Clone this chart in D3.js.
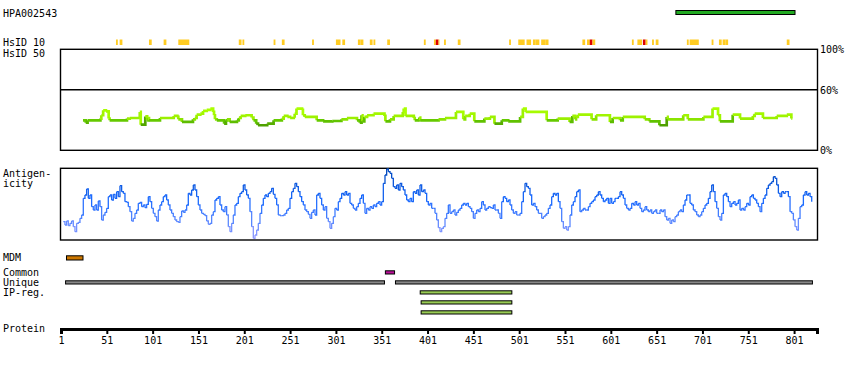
<!DOCTYPE html>
<html lang="en">
<head>
    <meta charset="UTF-8">
    <title>HPA002543</title>
    <script src="https://cdn.jsdelivr.net/npm/d3@7"></script>
    <style>
        body { margin: 0; background: #fff; }
        text { font: 10px "DejaVu Sans Mono", monospace; fill: #000; }
        .frame { fill: none; stroke: #000; stroke-width: 1.4; }
        .bar { stroke: #000; stroke-width: 1; }
        .axis .domain { stroke: #000; stroke-width: 3; }
        .axis .tick line { stroke: #000; stroke-width: 2; }
    </style>
</head>
<body>
<svg id="chart" width="850" height="370"></svg>
<script>
    // protein length and tick labels
    const proteinLength = 826
    const tickResidues = [1, 51, 101, 151, 201, 251, 301, 351, 401, 451, 501, 551, 601, 651, 701, 751, 801]

    // antigen (PrEST) region
    const antigen = [672, 802]

    // HsID 10 hits: [start, end, level]  (level 1 = yellow, 2 = red)
    const hsid10 = [
        [61, 62, 1], [65, 67, 1], [97, 99, 1], [113, 115, 1], [129, 140, 1], [195, 197, 1], [199, 200, 1],
        [233, 234, 1], [242, 244, 1], [275, 276, 1], [301, 305, 1], [308, 310, 1], [325, 327, 1], [328, 330, 1],
        [338, 340, 1], [342, 343, 1], [357, 359, 1], [397, 398, 1], [408, 409, 1], [410, 412, 2], [413, 413, 1],
        [419, 420, 1], [434, 436, 1], [490, 491, 1], [500, 506, 1], [509, 513, 1], [516, 518, 1], [519, 522, 1],
        [525, 529, 1], [530, 532, 1], [570, 572, 1], [575, 577, 1], [578, 580, 2], [581, 583, 1], [624, 625, 1],
        [630, 634, 1], [636, 638, 2], [639, 640, 1], [646, 647, 1], [650, 652, 1], [684, 685, 1], [687, 696, 1],
        [711, 712, 1], [719, 721, 1], [723, 725, 1], [726, 728, 1], [793, 795, 1]
    ]

    // sequence identity (%) – residue where each level starts
    const idPos = [25, 28, 30, 44, 45, 47, 50, 53, 54, 73, 76, 87, 88, 93, 95, 96, 97, 109, 124, 128, 129, 133,
        145, 147, 149, 153, 156, 160, 164, 167, 168, 169, 171, 179, 181, 182, 185, 193, 195, 197, 202, 209, 211,
        214, 216, 226, 233, 242, 244, 248, 251, 255, 256, 258, 264, 265, 267, 280, 287, 297, 307, 313, 324, 327,
        329, 330, 332, 335, 342, 354, 355, 360, 364, 374, 375, 377, 386, 387, 391, 392, 393, 413, 420, 432, 440,
        442, 447, 452, 463, 469, 474, 482, 489, 502, 505, 508, 531, 543, 556, 559, 562, 563, 565, 580, 585, 600,
        603, 611, 614, 638, 643, 654, 662, 663, 680, 685, 702, 712, 718, 720, 734, 742, 756, 758, 767, 782, 793,
        798, 799]
    const idVal = [29.7, 27.4, 29.7, 31.4, 34.7, 39.6, 38.5, 31.4, 29.7, 31.4, 32.0, 38.0, 25.4, 33.5, 29.7, 32.0,
        29.7, 32.0, 34.0, 33.0, 30.7, 28.1, 30.7, 32.0, 35.3, 36.3, 39.0, 40.0, 41.3, 38.0, 34.7, 30.7, 29.7, 26.4,
        29.7, 30.7, 28.1, 29.7, 32.0, 34.0, 34.7, 32.5, 29.7, 26.4, 24.8, 26.4, 29.7, 31.4, 34.0, 33.0, 32.0, 33.5,
        36.3, 41.3, 40.0, 34.7, 33.0, 29.7, 28.7, 29.0, 30.7, 32.0, 29.7, 27.4, 34.7, 28.7, 33.0, 34.7, 36.3, 34.0,
        28.7, 30.7, 34.0, 38.0, 41.3, 34.0, 32.0, 29.7, 30.0, 32.5, 29.7, 30.7, 32.0, 38.0, 30.7, 34.0, 36.3, 28.7,
        31.4, 33.0, 26.4, 29.7, 28.7, 33.0, 41.3, 38.0, 29.7, 31.4, 28.1, 34.0, 30.7, 33.0, 35.3, 30.7, 34.7, 28.1,
        32.0, 29.7, 33.0, 30.7, 28.7, 24.8, 33.0, 30.7, 34.7, 30.7, 33.0, 41.3, 34.7, 28.7, 35.3, 31.4, 34.0, 36.3,
        32.0, 34.0, 35.3, 31.4, 31.4]

    // antigenicity score (relative units), sampled from residue 3.5 every 1.819 residues
    const antStart = 3.5
    const antStep = 1.819
    const antVals = [55, 45, 57, 43, 50, 57, 40, 25, 50, 53, 65, 75, 125, 135, 153, 125, 135, 100, 90, 105, 90, 117,
        100, 60, 75, 83, 95, 130, 135, 120, 137, 125, 145, 130, 163, 145, 140, 115, 113, 100, 85, 57, 65, 80, 90, 110,
        113, 100, 105, 97, 107, 130, 115, 95, 80, 70, 57, 90, 105, 115, 130, 135, 120, 105, 90, 80, 70, 60, 55, 53,
        70, 87, 83, 90, 105, 140, 135, 150, 165, 150, 130, 105, 90, 80, 77, 73, 57, 47, 50, 75, 85, 120, 125, 130,
        105, 90, 85, 100, 75, 40, 25, 50, 75, 105, 110, 130, 140, 145, 165, 150, 135, 125, 85, 40, 5, 15, 30, 50,
        80, 105, 125, 135, 130, 140, 145, 155, 137, 125, 105, 75, 73, 73, 75, 80, 90, 95, 125, 145, 155, 170, 160,
        145, 130, 115, 105, 90, 85, 77, 65, 83, 90, 75, 135, 140, 125, 105, 90, 100, 65, 55, 35, 50, 70, 95, 90,
        115, 125, 140, 135, 145, 135, 140, 110, 105, 95, 90, 100, 110, 125, 135, 110, 80, 95, 90, 100, 95, 105, 100,
        110, 115, 105, 115, 170, 195, 213, 205, 200, 185, 160, 155, 165, 150, 170, 160, 150, 135, 120, 115, 125, 115,
        145, 140, 150, 135, 165, 145, 150, 140, 115, 105, 110, 95, 95, 80, 60,
        37, 25, 35, 40, 65, 80, 105, 80, 85, 90, 75, 83, 90, 95, 105, 110, 105, 110, 100, 95, 85, 65, 80, 90, 85, 95,
        115, 105, 90, 95, 100, 97, 95, 105, 90, 90, 80, 65, 115, 130, 125, 115, 120, 105, 90, 80, 85, 75, 75, 80, 115,
        145, 170, 160, 155, 135, 105, 110, 100, 90, 80, 80, 65, 70, 75, 80, 95, 105, 130, 140, 135, 140, 115, 95, 55,
        35, 40, 30, 40, 75, 105, 115, 130, 145, 150, 85, 90, 95, 90, 90, 100, 110, 115, 120, 130, 135, 145, 135, 125,
        115, 120, 125, 110, 125, 110, 115, 125, 125, 130, 145, 135, 125, 105, 95, 90, 95, 110, 105, 115, 105, 110, 95,
        85, 90, 100, 90, 85, 90, 80, 85, 90, 80, 80, 90, 85, 90, 70, 60, 65, 50, 60, 55, 70, 75, 85, 90, 85, 105, 120,
        135, 135, 110, 105, 90, 85, 75, 70, 75, 85, 95, 105, 110, 125, 145, 165, 145, 115, 95, 70, 60, 80, 135, 140,
        130, 115, 100, 110, 115, 105, 110, 120, 90, 95, 90, 100, 110, 105, 130, 135, 125, 120, 110, 100, 85, 110, 125,
        135, 155, 165, 170, 175, 190, 185, 165, 140, 130, 145, 140, 145, 145, 130, 85, 80, 60, 40, 30, 65, 100, 105,
        135, 145, 135, 140, 130, 115]

    // feature tracks: [start, end]
    const mdm = [[7, 25]]
    const common = [[355, 365]]
    const unique = [[6, 354], [366, 821]]
    const ipReg = [[393, 493], [394, 493], [394, 493]]

    const svg = d3.select("#chart")
    const x = d3.scaleLinear().domain([1, proteinLength]).range([61, 817])

    // labels
    const labels = [["HPA002543", 17], ["HsID 10", 46], ["HsID 50", 56.5], ["Antigen-", 177], ["icity", 187],
        ["MDM", 261], ["Common", 276], ["Unique", 286], ["IP-reg.", 296], ["Protein", 332]]
    svg.selectAll(".lbl").data(labels).enter().append("text")
        .attr("x", 3).attr("y", d => d[1]).text(d => d[0])

    // antigen bar
    svg.append("rect").attr("class", "bar")
        .attr("x", x(antigen[0])).attr("y", 10.5).attr("width", x(antigen[1]) - x(antigen[0])).attr("height", 4)
        .attr("fill", "#22aa22")

    // HsID 10 marks
    svg.selectAll(".hs").data(hsid10).enter().append("rect")
        .attr("x", d => x(d[0])).attr("y", 39.5)
        .attr("width", d => x(d[1] + 1) - x(d[0])).attr("height", 5.5)
        .attr("fill", d => d[2] === 2 ? "#dd0000" : "#ffcc22")

    // identity panel
    const yId = d3.scaleLinear().domain([0, 100]).range([150.3, 49.3])
    svg.append("rect").attr("class", "frame")
        .attr("x", 60.5).attr("y", yId(100)).attr("width", 757).attr("height", yId(0) - yId(100))
    svg.append("line").attr("class", "frame")
        .attr("x1", 60.5).attr("x2", 817.5).attr("y1", yId(60)).attr("y2", yId(60))
    const pctTicks = [100, 60, 0]
    svg.selectAll(".pct").data(pctTicks).enter().append("text")
        .attr("x", 820).attr("y", d => yId(d) + 4).text(d => d + "%")

    const idColor = d3.scaleLinear().domain([24, 30, 31, 40])
        .range(["#4c9900", "#66cc00", "#99ee00", "#aaff00"]).clamp(true)
    const idLine = d3.line().x(d => x(d[0])).y(d => yId(d[1])).curve(d3.curveStepAfter)
    const idSegs = d3.range(idPos.length - 1).map(i => [[idPos[i], idVal[i]], [idPos[i + 1], idVal[i + 1]]])
    svg.append("g").selectAll("path").data(idSegs).enter().append("path")
        .attr("d", idLine).attr("fill", "none").attr("stroke-width", 2.7)
        .attr("stroke", d => idColor(d[0][1]))

    // antigenicity panel
    const yAnt = d3.scaleLinear().domain([0, 216]).range([240, 168])
    svg.append("rect").attr("class", "frame")
        .attr("x", 60.5).attr("y", 168.3).attr("width", 757).attr("height", 71.7)
    const antColor = d3.scaleLinear().domain([0, 60, 120, 216])
        .range(["#9f9fff", "#5a88ff", "#1a6aff", "#0046b8"])
    const antPts = antVals.map((v, i) => [antStart + i * antStep, v])
    const antLine = d3.line().x(d => x(d[0])).y(d => yAnt(d[1])).curve(d3.curveStepAfter)
    const antSegs = d3.range(antPts.length - 1).map(i => [antPts[i], antPts[i + 1]])
    svg.append("g").selectAll("path").data(antSegs).enter().append("path")
        .attr("d", antLine).attr("fill", "none").attr("stroke-width", 1.3)
        .attr("stroke", d => antColor((d[0][1] + d[1][1]) / 2))

    // feature tracks
    function track(data, y, h, color) {
        svg.append("g").selectAll("rect").data(data).enter().append("rect").attr("class", "bar")
            .attr("x", d => x(d[0])).attr("y", y).attr("width", d => x(d[1]) - x(d[0])).attr("height", h)
            .attr("fill", color)
    }
    track(mdm, 255.8, 4.2, "#cc7700")
    track(common, 270.8, 3.2, "#bb1199")
    track(unique, 280.8, 3.2, "#888888")
    ipReg.forEach((r, i) => track([r], 290.8 + i * 10, 3.2, "#99cc55"))

    // protein axis
    const axis = d3.axisBottom(x).tickValues(tickResidues).tickSize(5).tickSizeOuter(5).tickFormat(d3.format("d"))
    const gAxis = svg.append("g").attr("class", "axis").attr("transform", "translate(0,329)").call(axis)
    gAxis.selectAll("text").style("font", '10px "DejaVu Sans Mono", monospace').attr("fill", "#000")
</script>
</body>
</html>
